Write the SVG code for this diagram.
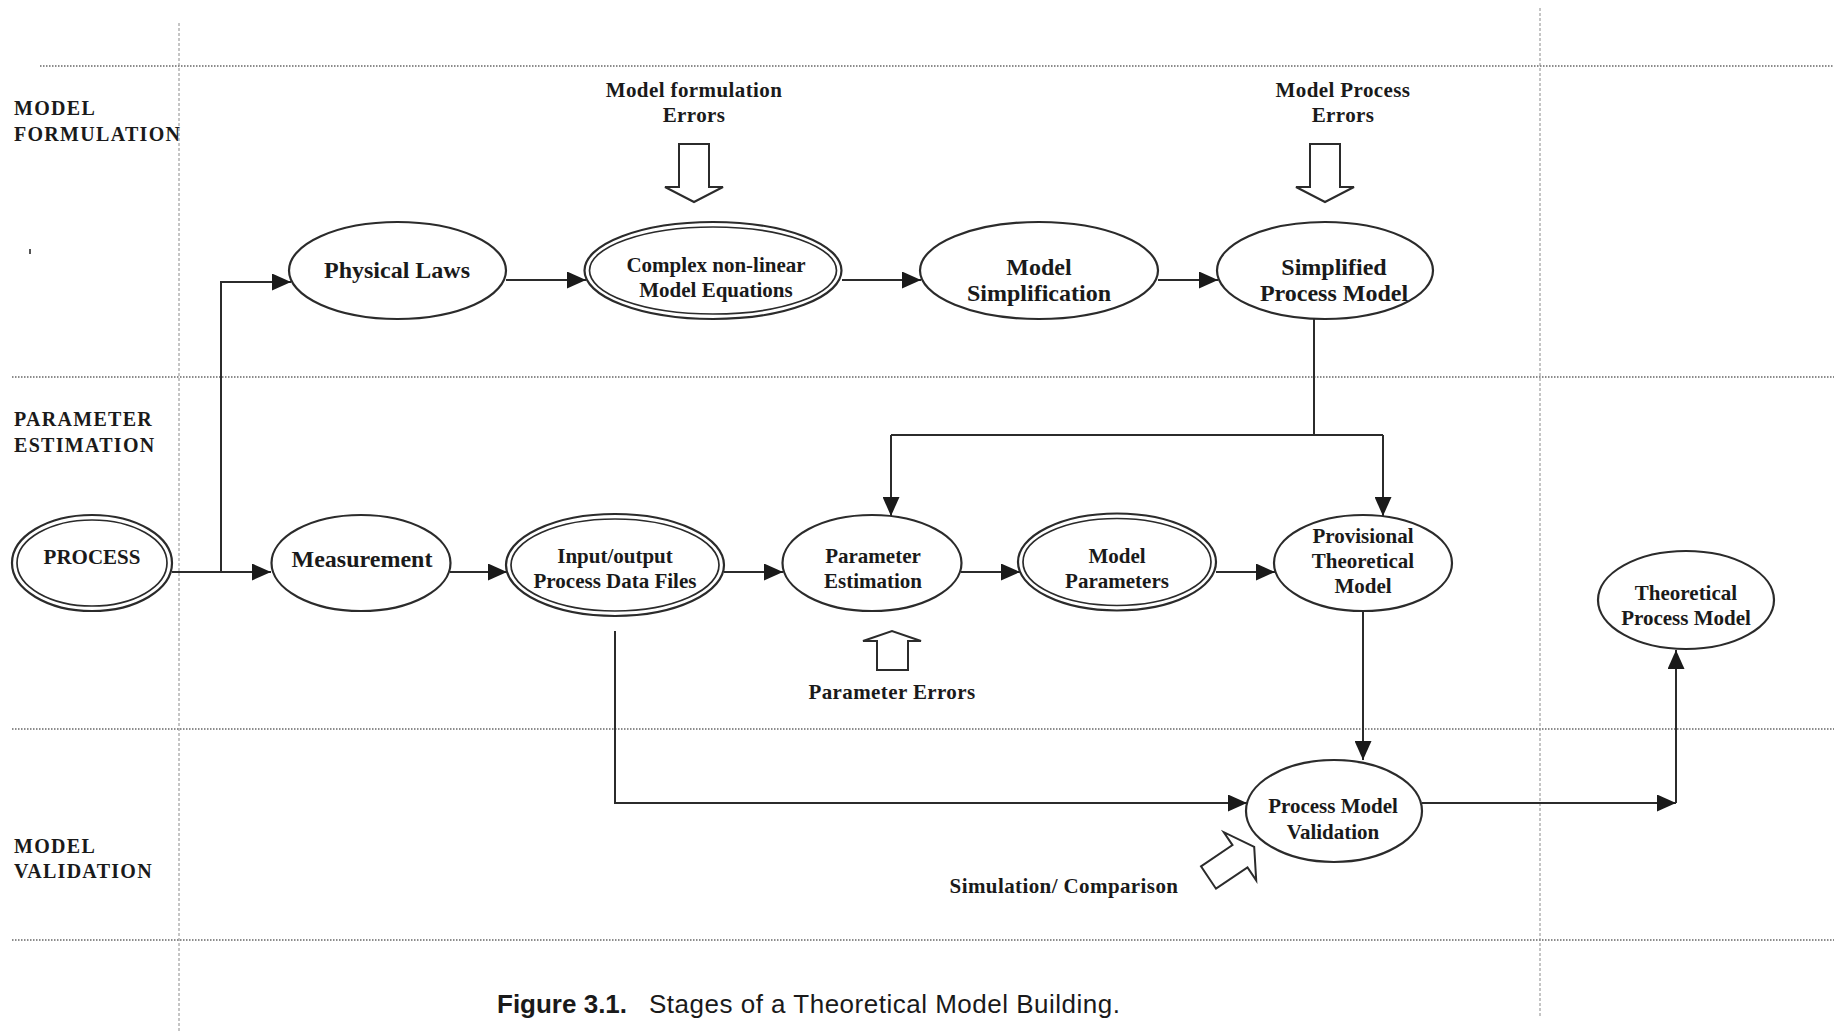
<svg xmlns="http://www.w3.org/2000/svg" width="1834" height="1033" viewBox="0 0 1834 1033">
  <style>
    .hgrid { stroke: #8c8c8c; stroke-width: 2; stroke-dasharray: 1.5 1.5; fill: none; }
    .vgrid { stroke: #8c8c8c; stroke-width: 1; stroke-dasharray: 3 2; fill: none; }
    .node { fill: #ffffff; stroke: #2b2b2b; stroke-width: 2.2; }
    .inner { fill: none; stroke: #2b2b2b; stroke-width: 1.7; }
    .conn { fill: none; stroke: #2b2b2b; stroke-width: 2; }
    .block { fill: #ffffff; stroke: #2b2b2b; stroke-width: 2; stroke-linejoin: miter; }
    .lane { font-family: "Liberation Serif", "Times New Roman", serif; font-weight: bold; font-size: 20px; letter-spacing: 1.3px; fill: #1a1a1a; }
    .t21 { font-family: "Liberation Serif", "Times New Roman", serif; font-weight: bold; font-size: 21px; fill: #1a1a1a; text-anchor: middle; }
    .t24 { font-family: "Liberation Serif", "Times New Roman", serif; font-weight: bold; font-size: 24px; fill: #1a1a1a; text-anchor: middle; }
    .note { font-family: "Liberation Serif", "Times New Roman", serif; font-weight: bold; font-size: 21px; letter-spacing: 0.4px; fill: #1a1a1a; text-anchor: middle; }
    .caption { font-family: "Liberation Sans", Arial, sans-serif; font-size: 26px; fill: #1a1a1a; }
  </style>
  <defs>
    <marker id="arrow" markerUnits="userSpaceOnUse" markerWidth="19" markerHeight="17" refX="19" refY="8.5" orient="auto">
      <path d="M0,0 L19,8.5 L0,17 z" fill="#1a1a1a"/>
    </marker>
  </defs>

  <rect width="1834" height="1033" fill="#ffffff"/>

  <!-- swim-lane grid -->
  <g id="grid">
    <line class="hgrid" x1="40" y1="66" x2="1834" y2="66"/>
    <line class="hgrid" x1="12" y1="377" x2="1834" y2="377"/>
    <line class="hgrid" x1="12" y1="729" x2="1834" y2="729"/>
    <line class="hgrid" x1="12" y1="940" x2="1834" y2="940"/>
    <line class="vgrid" x1="179" y1="23" x2="179" y2="1033"/>
    <line class="vgrid" x1="1540" y1="8" x2="1540" y2="1018"/>
    <rect x="29" y="249" width="2" height="5" fill="#555"/>
  </g>

  <!-- lane titles -->
  <g id="lanes">
    <text class="lane" x="14" y="115">MODEL</text>
    <text class="lane" x="14" y="141">FORMULATION</text>
    <text class="lane" x="14" y="426">PARAMETER</text>
    <text class="lane" x="14" y="452">ESTIMATION</text>
    <text class="lane" x="14" y="853">MODEL</text>
    <text class="lane" x="14" y="878">VALIDATION</text>
  </g>

  <!-- connectors -->
  <g id="connectors">
    <path class="conn" d="M172,572 H271" marker-end="url(#arrow)"/>
    <path class="conn" d="M221,572 V282 H291" marker-end="url(#arrow)"/>
    <path class="conn" d="M506,280 H586" marker-end="url(#arrow)"/>
    <path class="conn" d="M842,280 H921" marker-end="url(#arrow)"/>
    <path class="conn" d="M1158,280 H1218" marker-end="url(#arrow)"/>
    <path class="conn" d="M1314,319 V435"/>
    <path class="conn" d="M891,435 H1383"/>
    <path class="conn" d="M891,435 V516" marker-end="url(#arrow)"/>
    <path class="conn" d="M1383,435 V516" marker-end="url(#arrow)"/>
    <path class="conn" d="M450,572 H507" marker-end="url(#arrow)"/>
    <path class="conn" d="M724,572 H783" marker-end="url(#arrow)"/>
    <path class="conn" d="M961,572 H1020" marker-end="url(#arrow)"/>
    <path class="conn" d="M1216,572 H1275" marker-end="url(#arrow)"/>
    <path class="conn" d="M1363,611 V760" marker-end="url(#arrow)"/>
    <path class="conn" d="M615,631 V803 H1247" marker-end="url(#arrow)"/>
    <path class="conn" d="M1422,803 H1676" marker-end="url(#arrow)"/>
    <path class="conn" d="M1676,803 V650" marker-end="url(#arrow)"/>
  </g>

  <!-- hollow block arrows for error sources -->
  <g id="error-arrows">
    <polygon class="block" points="679,144 709,144 709,187 723,187 694,202 665,187 679,187"/>
    <polygon class="block" points="1310,144 1340,144 1340,187 1354,187 1325,202 1296,187 1310,187"/>
    <polygon class="block" points="877,670 908,670 908,641 921,641 892,631 863,641 877,641"/>
    <polygon class="block" points="1201,866.3 1232.5,845.1 1223.8,832.2 1254.2,846.9 1256.2,880.4 1247.5,867.5 1216,888.7"/>
  </g>

  <!-- free labels -->
  <g id="labels">
    <text class="note" x="694" y="97">Model formulation</text>
    <text class="note" x="694" y="122">Errors</text>
    <text class="note" x="1343" y="97">Model Process</text>
    <text class="note" x="1343" y="122">Errors</text>
    <text class="note" x="892" y="699">Parameter Errors</text>
    <text class="note" x="1064" y="893">Simulation/ Comparison</text>
  </g>

  <!-- nodes -->
  <g id="process">
    <ellipse class="node" cx="92" cy="563" rx="80" ry="48"/>
    <ellipse class="inner" cx="92" cy="563" rx="75" ry="43"/>
    <text class="t21" x="92" y="564">PROCESS</text>
  </g>
  <g id="physical-laws">
    <ellipse class="node" cx="397.5" cy="270.5" rx="108.5" ry="48.5"/>
    <text class="t24" x="397" y="278">Physical Laws</text>
  </g>
  <g id="complex-equations">
    <ellipse class="node" cx="713" cy="270.5" rx="128.5" ry="48.5"/>
    <ellipse class="inner" cx="713" cy="270.5" rx="123.5" ry="43.5"/>
    <text class="t21" x="716" y="272">Complex non-linear</text>
    <text class="t21" x="716" y="297">Model Equations</text>
  </g>
  <g id="model-simplification">
    <ellipse class="node" cx="1039" cy="270.5" rx="119" ry="48.5"/>
    <text class="t24" x="1039" y="275">Model</text>
    <text class="t24" x="1039" y="301">Simplification</text>
  </g>
  <g id="simplified-model">
    <ellipse class="node" cx="1325" cy="270.5" rx="108" ry="48.5"/>
    <text class="t24" x="1334" y="275">Simplified</text>
    <text class="t24" x="1334" y="301">Process Model</text>
  </g>
  <g id="measurement">
    <ellipse class="node" cx="361" cy="563" rx="89.5" ry="48"/>
    <text class="t24" x="362" y="567">Measurement</text>
  </g>
  <g id="data-files">
    <ellipse class="node" cx="615" cy="565" rx="109" ry="51"/>
    <ellipse class="inner" cx="615" cy="565" rx="104" ry="46"/>
    <text class="t21" x="615" y="563">Input/output</text>
    <text class="t21" x="615" y="588">Process Data Files</text>
  </g>
  <g id="parameter-estimation">
    <ellipse class="node" cx="872" cy="563" rx="89.5" ry="48"/>
    <text class="t21" x="873" y="563">Parameter</text>
    <text class="t21" x="873" y="588">Estimation</text>
  </g>
  <g id="model-parameters">
    <ellipse class="node" cx="1117" cy="562" rx="99" ry="48.5"/>
    <ellipse class="inner" cx="1117" cy="562" rx="94" ry="43.5"/>
    <text class="t21" x="1117" y="563">Model</text>
    <text class="t21" x="1117" y="588">Parameters</text>
  </g>
  <g id="provisional-model">
    <ellipse class="node" cx="1363" cy="563" rx="89" ry="48"/>
    <text class="t21" x="1363" y="543">Provisional</text>
    <text class="t21" x="1363" y="568">Theoretical</text>
    <text class="t21" x="1363" y="593">Model</text>
  </g>
  <g id="theoretical-model">
    <ellipse class="node" cx="1686" cy="600" rx="88" ry="49"/>
    <text class="t21" x="1686" y="600">Theoretical</text>
    <text class="t21" x="1686" y="625">Process Model</text>
  </g>
  <g id="model-validation">
    <ellipse class="node" cx="1334" cy="811" rx="88" ry="51"/>
    <text class="t21" x="1333" y="813">Process Model</text>
    <text class="t21" x="1333" y="839">Validation</text>
  </g>

  <!-- figure caption -->
  <text class="caption" y="1013"><tspan x="497" font-weight="bold">Figure 3.1.</tspan><tspan x="649" letter-spacing="0.5">Stages of a Theoretical Model Building.</tspan></text>
</svg>
